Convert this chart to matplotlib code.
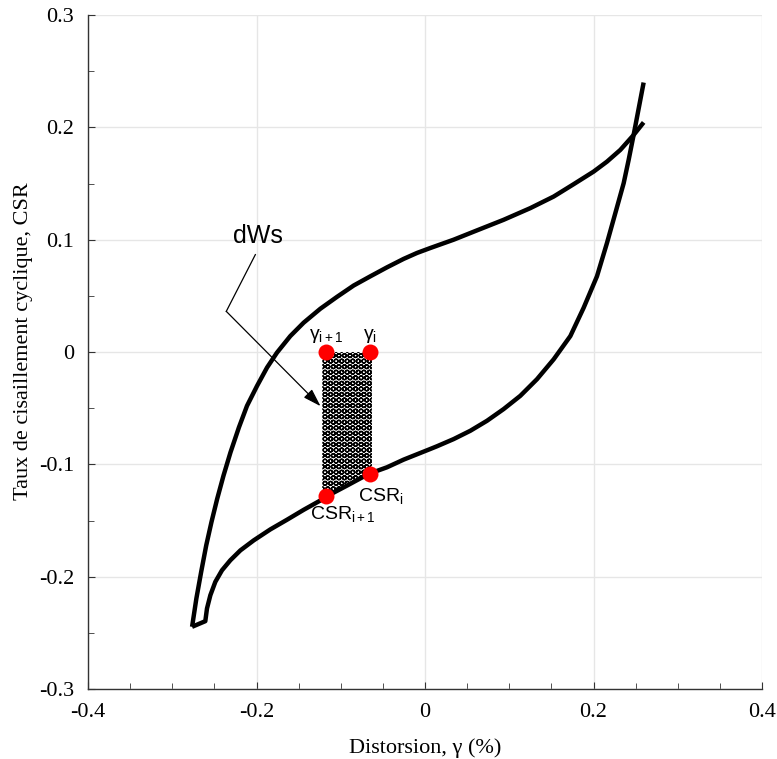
import numpy as np
import matplotlib
matplotlib.use('Agg')
import matplotlib.pyplot as plt
from matplotlib.ticker import MultipleLocator

plt.rcParams['mathtext.fontset'] = 'custom'
plt.rcParams['mathtext.rm'] = 'Liberation Sans'
plt.rcParams['mathtext.it'] = 'Liberation Sans'
plt.rcParams['hatch.linewidth'] = 1.0

# unloading branch (top right -> bottom left)
x_unload = [0.2595, 0.2476, 0.2318, 0.2160, 0.2001, 0.1764, 0.1527, 0.1250,
            0.0933, 0.0617, 0.0340, 0.0063, -0.0095, -0.0254, -0.0451,
            -0.0649, -0.0847, -0.1045, -0.1243, -0.1441, -0.1599, -0.1757,
            -0.1875, -0.1994, -0.2113, -0.2209, -0.2309, -0.2392, -0.2467,
            -0.2535, -0.2597, -0.2657, -0.2714, -0.2765]
y_unload = [0.2044, 0.1932, 0.1799, 0.1695, 0.1606, 0.1494, 0.1384, 0.1281,
            0.1177, 0.1083, 0.1000, 0.0926, 0.0882, 0.0829, 0.0754,
            0.0674, 0.0592, 0.0491, 0.0385, 0.0261, 0.0142, -0.0005,
            -0.0138, -0.0302, -0.0479, -0.0671, -0.0893, -0.1100, -0.1307,
            -0.1514, -0.1721, -0.1957, -0.2194, -0.2446]

# reloading branch (bottom left -> top right)
x_reload = [-0.2765, -0.2608, -0.2588, -0.2548, -0.2489, -0.2410, -0.2311,
            -0.2192, -0.2034, -0.1836, -0.1638, -0.1441, -0.1243, -0.1163,
            -0.0926, -0.0669, -0.0451, -0.0254, 0.0063, 0.0142, 0.0340,
            0.0538, 0.0736, 0.0933, 0.1131, 0.1329, 0.1527, 0.1725, 0.1883,
            0.2041, 0.2160, 0.2270, 0.2358, 0.2417, 0.2476, 0.2540, 0.2595]
y_reload = [-0.2446, -0.2396, -0.2283, -0.2165, -0.2046, -0.1943, -0.1854,
            -0.1766, -0.1677, -0.1579, -0.1493, -0.1405, -0.1322, -0.1283,
            -0.1189, -0.1085, -0.1026, -0.0958, -0.0863, -0.0839, -0.0775,
            -0.0701, -0.0612, -0.0508, -0.0390, -0.0242, -0.0065, 0.0142, 0.0394,
            0.0674, 0.0971, 0.1266, 0.1503, 0.1710, 0.1932, 0.2183, 0.2399]

# increment points
gam_i1, gam_i = -0.117, -0.065
csr_i1, csr_i = -0.128, -0.1085
strip_x = [-0.122, -0.063]

fig = plt.figure(figsize=(7.77, 7.59), dpi=100)
ax = fig.add_axes([0.1133, 0.0922, 0.8674, 0.888])

# hatched work increment dWs
xs = np.linspace(strip_x[0], strip_x[1], 20)
ys = np.interp(xs, x_reload, y_reload)
ax.fill_between(xs, ys, 0, facecolor='white', edgecolor='black',
                hatch='OOO', linewidth=0, zorder=2)

ax.plot(x_unload, y_unload, color='black', lw=3.2, solid_capstyle='butt',
        solid_joinstyle='round', zorder=3)
ax.plot(x_reload, y_reload, color='black', lw=3.2, solid_capstyle='butt',
        solid_joinstyle='round', zorder=3)

ax.plot([gam_i1, gam_i, gam_i1, gam_i], [0, 0, csr_i1, csr_i], 'o',
        color='red', ms=11.5, mec='none', zorder=4)

lab = dict(family='Liberation Sans', fontsize=14)
ax.text(gam_i1, 0.006, r'$\gamma_{i+1}$', ha='center', va='bottom', **lab)
ax.text(gam_i, 0.006, r'$\gamma_{i}$', ha='center', va='bottom', **lab)
ax.text(-0.097, -0.1355, r'CSR$_{i+1}$', ha='center', va='top', **lab)
ax.text(-0.053, -0.1193, r'CSR$_{i}$', ha='center', va='top', **lab)

# dWs label with broken leader
ax.text(-0.198, 0.0972, 'dWs', ha='center', va='baseline',
        family='Liberation Sans', fontsize=18)
ax.plot([-0.2014, -0.2359], [0.0867, 0.0362], color='black', lw=0.9)
ax.annotate('', xy=(-0.124, -0.0482), xytext=(-0.2359, 0.0362),
            arrowprops=dict(arrowstyle='-|>,head_length=1.1,head_width=0.35',
                            color='black', lw=0.9, shrinkA=0, shrinkB=0))

ax.set_xlim(-0.4, 0.4)
ax.set_ylim(-0.3, 0.3)
ax.xaxis.set_major_locator(MultipleLocator(0.2))
ax.xaxis.set_minor_locator(MultipleLocator(0.05))
ax.yaxis.set_major_locator(MultipleLocator(0.1))
ax.yaxis.set_minor_locator(MultipleLocator(0.05))
fmt = lambda v, p: '%g' % round(v, 2) if abs(v) > 1e-9 else '0'
ax.xaxis.set_major_formatter(plt.FuncFormatter(fmt))
ax.yaxis.set_major_formatter(plt.FuncFormatter(fmt))

ax.grid(which='major', color='#e6e6e6', lw=1)
ax.set_axisbelow(True)
for s in ['top', 'right']:
    ax.spines[s].set_visible(False)
for s in ['left', 'bottom']:
    ax.spines[s].set_color('#333333')
    ax.spines[s].set_linewidth(1.0)
ax.tick_params(which='both', direction='in', color='#333333',
               labelsize=16, pad=10)
ax.tick_params(which='major', length=5)
ax.tick_params(which='minor', length=4)
for t in ax.get_xticklabels() + ax.get_yticklabels():
    t.set_family('Liberation Serif')

ax.set_xlabel('Distorsion, γ (%)', family='Liberation Serif', fontsize=16)
ax.set_ylabel('Taux de cisaillement cyclique, CSR', family='Liberation Serif',
              fontsize=16)
ax.xaxis.set_label_coords(0.4996, -0.0727)
ax.yaxis.set_label_coords(-0.0815, 0.516)

fig.savefig('out.png', dpi=100)
